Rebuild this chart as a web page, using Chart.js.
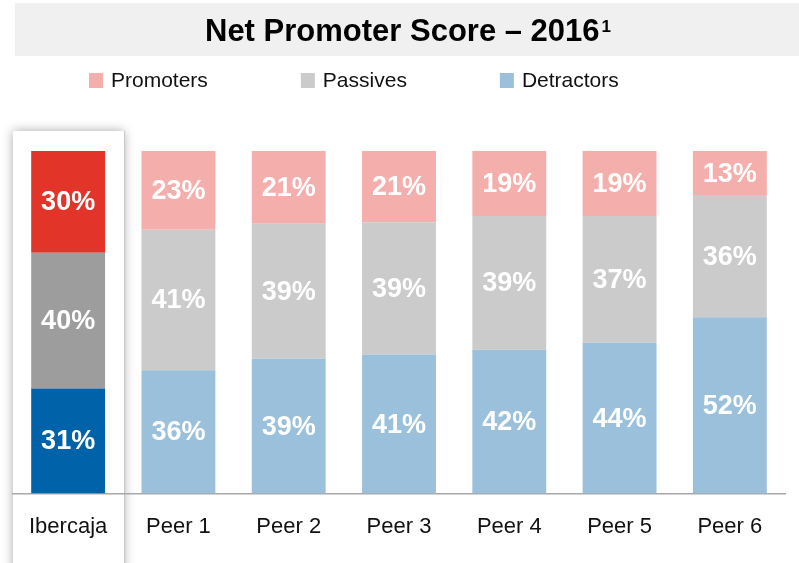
<!DOCTYPE html>
<html>
<head>
<meta charset="utf-8">
<script src="https://cdn.jsdelivr.net/npm/chart.js@4.4.1/dist/chart.umd.min.js"></script>
<style>
	html, body { margin: 0; padding: 0; background: #fff; }
</style>
</head>
<body>
<canvas id="npsChart" width="799" height="563"></canvas>
<script>
const categories = ["Ibercaja", "Peer 1", "Peer 2", "Peer 3", "Peer 4", "Peer 5", "Peer 6"];
const promoters = [30, 23, 21, 21, 19, 19, 13];
const passives = [40, 41, 39, 39, 39, 37, 36];
const detractors = [31, 36, 39, 41, 42, 44, 52];

const FONT = "'Liberation Sans', Arial, sans-serif";

// every bar is drawn as a full 100% column, labels keep the published figures
const sums = categories.map((c, i) => promoters[i] + passives[i] + detractors[i]);
const share = (arr) => arr.map((v, i) => (v / sums[i]) * 100);
const colorsFor = (own, peer) => categories.map((c, i) => (i === 0 ? own : peer));

const titleBox = {
	id: "titleBox",
	beforeDraw(chart) {
		const { ctx } = chart;
		ctx.save();
		ctx.fillStyle = "#f0f0f0";
		ctx.fillRect(15, 3, 784, 53);
		const main = "Net Promoter Score – 2016";
		ctx.font = "bold 31px " + FONT;
		const w1 = ctx.measureText(main).width;
		ctx.font = "bold 17px " + FONT;
		const w2 = ctx.measureText("1").width;
		const x0 = 408 - (w1 + w2 + 2) / 2;
		ctx.fillStyle = "#000";
		ctx.textBaseline = "alphabetic";
		ctx.textAlign = "left";
		ctx.font = "bold 31px " + FONT;
		ctx.fillText(main, x0, 41);
		ctx.font = "bold 17px " + FONT;
		ctx.fillText("1", x0 + w1 + 2, 32);
		ctx.restore();
	},
};

const highlightBox = {
	id: "highlightBox",
	beforeDraw(chart) {
		const { ctx } = chart;
		const x = chart.scales.x;
		const half = (x.right - x.left) / categories.length / 2;
		const left = x.getPixelForValue(0) - half;
		ctx.save();
		ctx.shadowColor = "rgba(0,0,0,0.35)";
		ctx.shadowBlur = 10;
		ctx.fillStyle = "#fff";
		ctx.fillRect(left, 131, 111, 450);
		ctx.shadowColor = "transparent";
		ctx.strokeStyle = "#c8c8c8";
		ctx.lineWidth = 1;
		ctx.beginPath();
		ctx.moveTo(left + 111.5, 131);
		ctx.lineTo(left + 111.5, 563);
		ctx.stroke();
		ctx.restore();
	},
};

const topLegend = {
	id: "topLegend",
	afterDraw(chart) {
		const { ctx } = chart;
		ctx.save();
		ctx.font = "21px " + FONT;
		ctx.textBaseline = "middle";
		ctx.textAlign = "left";
		let x = 89;
		chart.data.datasets
			.slice()
			.reverse()
			.forEach((ds) => {
				ctx.fillStyle = ds.legendColor;
				ctx.fillRect(x, 73, 14, 15);
				ctx.fillStyle = "#111";
				ctx.fillText(ds.label, x + 22, 81);
				x += 22 + ctx.measureText(ds.label).width + 93;
			});
		ctx.restore();
	},
};

const valueLabels = {
	id: "valueLabels",
	afterDatasetsDraw(chart) {
		const { ctx } = chart;
		ctx.save();
		ctx.font = "bold 27px " + FONT;
		ctx.fillStyle = "#fff";
		ctx.textAlign = "center";
		ctx.textBaseline = "middle";
		chart.data.datasets.forEach((ds, di) => {
			chart.getDatasetMeta(di).data.forEach((bar, i) => {
				ctx.fillText(ds.raw[i] + "%", bar.x, (bar.y + bar.base) / 2 + 1);
			});
		});
		ctx.restore();
	},
};

new Chart(document.getElementById("npsChart"), {
	type: "bar",
	data: {
		labels: categories,
		datasets: [
			{
				label: "Detractors",
				data: share(detractors),
				raw: detractors,
				backgroundColor: colorsFor("#0062a9", "#9ac0dc"),
				legendColor: "#9ac0dc",
			},
			{
				label: "Passives",
				data: share(passives),
				raw: passives,
				backgroundColor: colorsFor("#9d9d9d", "#cbcbcb"),
				legendColor: "#cbcbcb",
			},
			{
				label: "Promoters",
				data: share(promoters),
				raw: promoters,
				backgroundColor: colorsFor("#e3342a", "#f4aeab"),
				legendColor: "#f4aeab",
			},
		],
	},
	options: {
		responsive: false,
		animation: false,
		devicePixelRatio: 1,
		barPercentage: 0.67,
		categoryPercentage: 1,
		layout: { padding: { top: 151, left: 13, right: 14, bottom: 3 } },
		plugins: {
			legend: { display: false },
			title: { display: false },
			tooltip: { enabled: false },
		},
		scales: {
			x: {
				stacked: true,
				grid: { display: false, drawTicks: false },
				border: { display: true, color: "#a8a8a8", width: 1.5 },
				ticks: { color: "#111", font: { family: FONT, size: 22 }, padding: 20 },
			},
			y: {
				stacked: true,
				display: false,
				min: 0,
				max: 100,
			},
		},
	},
	plugins: [titleBox, highlightBox, topLegend, valueLabels],
});
</script>
</body>
</html>
